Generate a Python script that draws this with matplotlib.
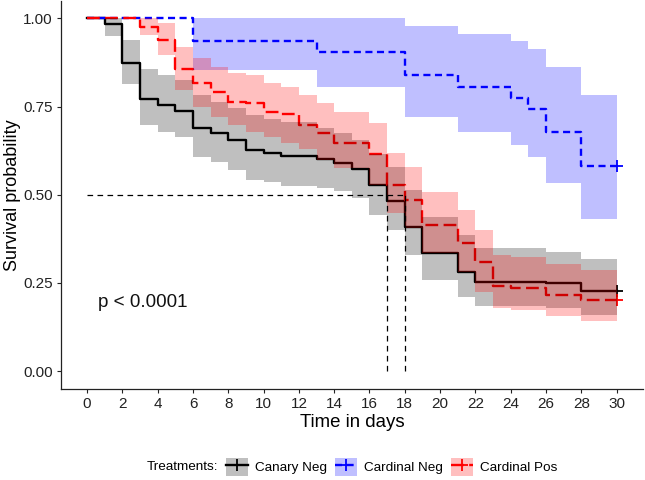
import matplotlib
matplotlib.use("Agg")
import matplotlib.pyplot as plt
from matplotlib.patches import Patch
from matplotlib.lines import Line2D

plt.rcParams['font.family'] = ['Liberation Sans', 'DejaVu Sans']

# ---- data ----
end_time = 30

canary_t  = [0, 1, 2, 3, 4, 5, 6, 7, 8, 9, 10, 11, 13, 14, 15, 16, 17, 18, 19, 21, 22, 26, 28]
canary_s  = [1.0, 0.983, 0.873, 0.771, 0.754, 0.737, 0.690, 0.674, 0.655, 0.627, 0.617, 0.610,
             0.600, 0.589, 0.572, 0.528, 0.482, 0.410, 0.335, 0.282, 0.254, 0.249, 0.228]
canary_lo = [1.0, 0.950, 0.814, 0.697, 0.678, 0.665, 0.608, 0.593, 0.570, 0.542, 0.537, 0.525,
             0.520, 0.510, 0.490, 0.442, 0.400, 0.329, 0.258, 0.209, 0.184, 0.178, 0.158]
canary_hi = [1.0, 1.0, 0.940, 0.856, 0.840, 0.825, 0.782, 0.764, 0.745, 0.726, 0.715, 0.707,
             0.690, 0.675, 0.655, 0.615, 0.579, 0.513, 0.437, 0.385, 0.348, 0.338, 0.319]

cardneg_t  = [0, 6, 13, 18, 21, 24, 25, 26, 28]
cardneg_s  = [1.0, 0.937, 0.904, 0.839, 0.806, 0.775, 0.743, 0.679, 0.581]
cardneg_lo = [1.0, 0.853, 0.806, 0.721, 0.679, 0.641, 0.606, 0.532, 0.431]
cardneg_hi = [1.0, 1.0, 1.0, 0.978, 0.957, 0.937, 0.912, 0.863, 0.783]

cardpos_t  = [0, 3, 4, 5, 6, 7, 8, 9, 10, 11, 12, 13, 14, 16, 17, 18, 19, 21, 22, 23, 24, 26, 28]
cardpos_s  = [1.0, 0.976, 0.938, 0.857, 0.816, 0.790, 0.764, 0.759, 0.735, 0.730, 0.697, 0.674,
              0.648, 0.615, 0.527, 0.485, 0.414, 0.364, 0.308, 0.241, 0.235, 0.217, 0.201]
cardpos_lo = [1.0, 0.953, 0.896, 0.797, 0.749, 0.721, 0.697, 0.677, 0.664, 0.646, 0.631, 0.598,
              0.575, 0.527, 0.447, 0.405, 0.334, 0.282, 0.225, 0.178, 0.173, 0.156, 0.143]
cardpos_hi = [1.0, 1.0, 0.986, 0.920, 0.887, 0.863, 0.844, 0.839, 0.816, 0.806, 0.782, 0.759,
              0.735, 0.704, 0.619, 0.579, 0.508, 0.458, 0.400, 0.329, 0.324, 0.305, 0.286]

labels = ["Canary Neg", "Cardinal Neg", "Cardinal Pos"]
colors = ["black", "#0000FF", "#FF0000"]
medians = [17, 18]
x_ticks = list(range(0, 31, 2))
y_ticks = [0.0, 0.25, 0.50, 0.75, 1.00]

series = [
    (canary_t, canary_s, canary_lo, canary_hi),
    (cardneg_t, cardneg_s, cardneg_lo, cardneg_hi),
    (cardpos_t, cardpos_s, cardpos_lo, cardpos_hi),
]
dash_styles = [None, (3.0, 1.9), (5.4, 2.3)]

fig = plt.figure(figsize=(6.45, 4.8), dpi=100)
ax = fig.add_axes([0.094, 0.190, 0.903, 0.8085])

lw = 1.7
for (t, s, lo, hi), col, dsh in zip(series, colors, dash_styles):
    tx = list(t) + [end_time]
    sx = list(s) + [s[-1]]
    lox = list(lo) + [lo[-1]]
    hix = list(hi) + [hi[-1]]
    line, = ax.step(tx, sx, where='post', color=col, lw=lw, zorder=2)
    if dsh is not None:
        line.set_dashes(dsh)
    ax.plot([end_time], [s[-1]], marker='+', color=col, ms=8, mew=1.3, zorder=2)
    ax.fill_between(tx, lox, hix, step='post', color=col, alpha=0.25, lw=0, zorder=3)

# median lines
ax.plot([0, max(medians)], [0.5, 0.5], color='black', lw=0.9, dashes=(4.5, 3.5), zorder=4)
for m in medians:
    ax.plot([m, m], [0, 0.5], color='black', lw=0.9, dashes=(4.5, 3.5), zorder=4)

ax.text(0.6, 0.195, "p < 0.0001", fontsize=13.6, ha='left', va='center', color='#111111')

ax.set_xlim(-1.5, 31.5)
ax.set_ylim(-0.05, 1.05)
ax.set_xticks(x_ticks)
ax.set_yticks(y_ticks)
ax.set_yticklabels([f"{v:.2f}" for v in y_ticks])
ax.tick_params(axis='both', labelsize=11, length=3.0, width=0.8, pad=2.8,
               colors='#222222', labelcolor='#222222')
for side in ['top', 'right']:
    ax.spines[side].set_visible(False)
for side in ['left', 'bottom']:
    ax.spines[side].set_linewidth(0.9)
    ax.spines[side].set_color('#222222')

ax.set_xlabel("Time in days", fontsize=13.4, labelpad=2.5)
ax.set_ylabel("Survival probability", fontsize=13.0, va='center')
ax.yaxis.set_label_coords(-0.082, 0.5)

# legend
handles = []
for col, dsh in zip(colors, dash_styles):
    p = Patch(facecolor=col, alpha=0.25, edgecolor='none')
    ln = Line2D([], [], color=col, lw=lw, marker='+', ms=8, mew=1.3)
    if dsh is not None:
        ln.set_dashes(dsh)
    handles.append((p, ln))

fig.text(147 / 645, 1 - 467 / 480, "Treatments:", fontsize=9.7, ha='left', va='center')
leg = fig.legend(handles, labels, ncol=3, loc='center left',
                 bbox_to_anchor=(226 / 645, 1 - 467 / 480), frameon=False,
                 fontsize=9.7, handlelength=1.6, handleheight=1.6,
                 handletextpad=0.55, columnspacing=0.6, borderpad=0, borderaxespad=0)

fig.savefig("out.png", dpi=100)
